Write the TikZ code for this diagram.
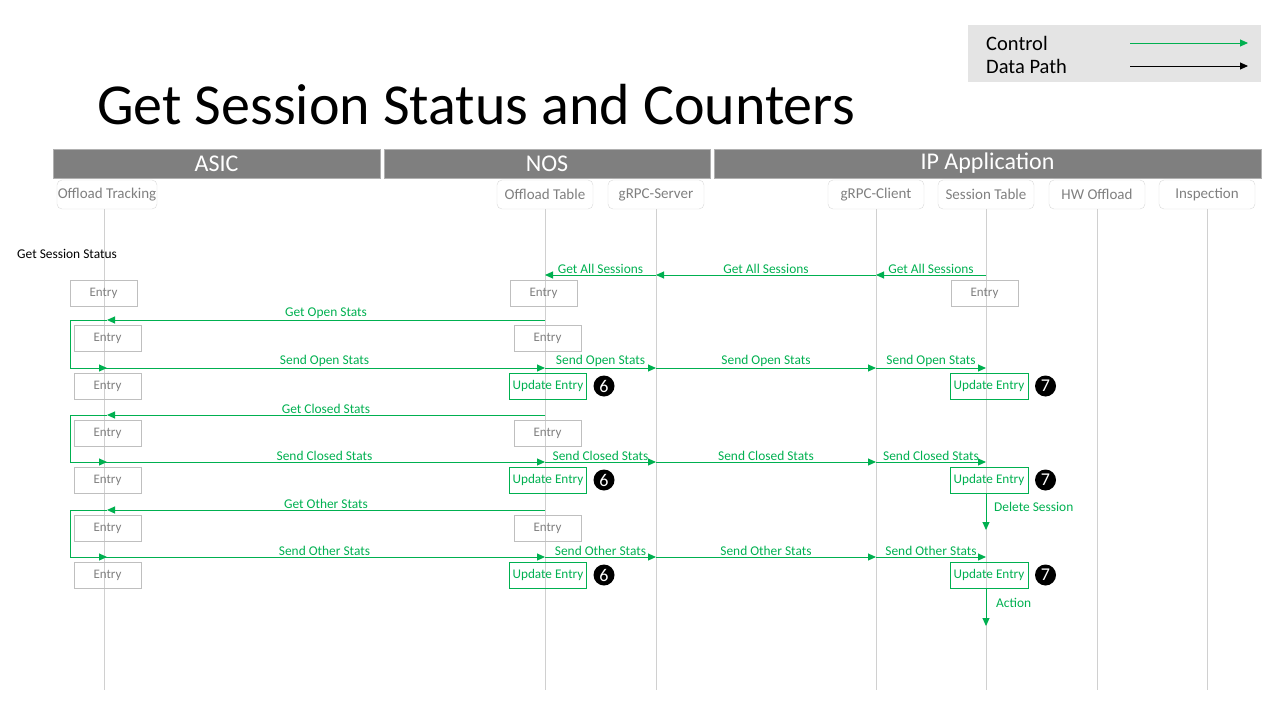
\documentclass[tikz,border=0pt]{standalone}
\usepackage{fontspec}
\setmainfont{Carlito}
\usetikzlibrary{arrows.meta}
\definecolor{ctlgreen}{HTML}{00B050}
\definecolor{bargray}{HTML}{7F7F7F}
\definecolor{barborder}{HTML}{B0B0B0}
\definecolor{headborder}{HTML}{D9D9D9}
\definecolor{headtext}{HTML}{7F7F7F}
\definecolor{entryborder}{HTML}{BFBFBF}
\definecolor{lifegray}{HTML}{D0D0D0}
\definecolor{legendfill}{HTML}{E4E4E4}
\newcommand{\fs}[1]{\fontsize{#1}{#1}\selectfont}
\tikzset{
  bar/.style={draw=barborder, fill=bargray, text=white, inner sep=0, minimum height=29pt, font=\fs{24}},
  head/.style={draw=headborder, rounded corners=5pt, text=headtext, inner sep=0, minimum height=29pt, minimum width=96pt, font=\fs{15}},
  life/.style={draw=lifegray, line width=0.8pt},
  entrybox/.style={draw=entryborder, text=headtext, inner sep=0, minimum width=67pt, minimum height=26pt, font=\fs{13}},
  updbox/.style={draw=ctlgreen, text=ctlgreen, inner sep=0, minimum width=77pt, minimum height=26pt, font=\fs{13.2}},
  badge/.style={circle, fill=black, text=white, inner sep=0, minimum size=21pt, font=\fs{18}},
  ctl/.style={draw=ctlgreen, line width=1pt},
  ctlarrow/.style={ctl, -{Triangle[length=8pt,width=7pt]}},
  lbl/.style={text=ctlgreen, font=\fs{13.4}, inner sep=1pt, above},
}
\begin{document}
\begin{tikzpicture}[x=1pt,y=-1pt]
\useasboundingbox (0,0) rectangle (1280,720);
% legend
\node[fill=legendfill, inner sep=0, minimum width=293pt, minimum height=57pt] (legend) at (1114.5,53.5) {};
\node[anchor=west, font=\fs{20.5}, inner sep=0] (lc) at (986,43) {Control};
\node[anchor=west, font=\fs{20.5}, inner sep=0] (ld) at (986,66) {Data Path};
\coordinate (lca) at (1130,43); \coordinate (lcb) at (1248,43);
\coordinate (lda) at (1130,66); \coordinate (ldb) at (1248,66);
\draw[draw=ctlgreen, line width=0.8pt, -{Triangle[length=8pt,width=7pt]}] (lca) -- (lcb);
\draw[draw=black, line width=0.8pt, -{Triangle[length=8pt,width=7pt]}] (lda) -- (ldb);
% title
\node[anchor=base west, inner sep=0, font=\fs{58}] (title) at (97,124) {Get Session Status and Counters};
% bars
\node[bar, minimum width=327pt] (asic) at (216.5,163.5) {ASIC};
\node[bar, minimum width=326pt] (nos) at (547,163.5) {NOS};
\node[bar, minimum width=547pt] (ipapp) at (987.5,163.5) {IP Application};
% heads
\node[head, minimum width=100pt] (ot) at (107,194.5) {Offload Tracking};
\node[head] (otab) at (545,194.5) {Offload Table};
\node[head] (gs) at (656,194.5) {gRPC-Server};
\node[head] (gc) at (876,194.5) {gRPC-Client};
\node[head] (st) at (986,194.5) {Session Table};
\node[head] (hw) at (1097,194.5) {HW Offload};
\node[head] (insp) at (1207,194.5) {Inspection};
\coordinate (bot) at (0,690);
\coordinate (otx) at (104,0);
\draw[life] (otx |- ot.south) -- (otx |- bot);
\foreach \h in {otab,gs,gc,st,hw,insp} \draw[life] (\h.south) -- (\h |- bot);
% section label
\node[anchor=west, inner sep=0, font=\fs{13.4}] (sec) at (17,254) {Get Session Status};
% entry boxes
\node[entrybox] (l1) at (103.5,293) {Entry};
\node[entrybox] (l2) at (107.5,338) {Entry};
\node[entrybox] (l3) at (107.5,386) {Entry};
\node[entrybox] (l4) at (107.5,433) {Entry};
\node[entrybox] (l5) at (107.5,480) {Entry};
\node[entrybox] (l6) at (107.5,528) {Entry};
\node[entrybox] (l7) at (107.5,575) {Entry};
\node[entrybox] (m1) at (543.5,293) {Entry};
\node[entrybox] (m2) at (547.5,338) {Entry};
\node[updbox] (u1) at (548,386) {Update Entry};
\node[entrybox] (m3) at (547.5,433) {Entry};
\node[updbox] (u2) at (548,480) {Update Entry};
\node[entrybox] (m4) at (547.5,528) {Entry};
\node[updbox] (u3) at (548,575) {Update Entry};
\node[entrybox] (s1) at (984.5,293) {Entry};
\node[updbox, minimum width=78pt] (v1) at (989,386) {Update Entry};
\node[updbox, minimum width=78pt] (v2) at (989,480) {Update Entry};
\node[updbox, minimum width=78pt] (v3) at (989,575) {Update Entry};
\node[badge] (b1) at (604,386) {6};
\node[badge] (b2) at (604,480) {6};
\node[badge] (b3) at (604,575) {6};
\node[badge] (c1) at (1045.5,386) {7};
\node[badge] (c2) at (1045.5,480) {7};
\node[badge] (c3) at (1045.5,575) {7};
% rows
\coordinate (r0) at (0,275);
\coordinate (lx) at (70,0);
\coordinate (tx) at (107,0);
% Get All Sessions
\draw[ctlarrow] (st |- r0) -- node[lbl]{Get All Sessions} (gc |- r0);
\draw[ctlarrow] (gc |- r0) -- node[lbl]{Get All Sessions} (gs |- r0);
\draw[ctlarrow] (gs |- r0) -- node[lbl]{Get All Sessions} (otab |- r0);
% three stats loops
\foreach \ga/\sa/\gl/\sl in {320/368/Get Open Stats/Send Open Stats, 415/462/Get Closed Stats/Send Closed Stats, 510/557/Get Other Stats/Send Other Stats}{
  \coordinate (rg) at (0,\ga);
  \coordinate (rs) at (0,\sa);
  \draw[ctlarrow] (otab |- rg) -- node[lbl]{\gl} (tx |- rg);
  \draw[ctl] (tx |- rg) -- (lx |- rg) -- (lx |- rs);
  \draw[ctlarrow] (lx |- rs) -- (tx |- rs);
  \draw[ctlarrow] (otx |- rs) -- node[lbl]{\sl} (otab |- rs);
  \draw[ctlarrow] (otab |- rs) -- node[lbl]{\sl} (gs |- rs);
  \draw[ctlarrow] (gs |- rs) -- node[lbl]{\sl} (gc |- rs);
  \draw[ctlarrow] (gc |- rs) -- node[lbl]{\sl} (st |- rs);
}
% delete session / action
\coordinate (dse) at (0,530);
\coordinate (ace) at (0,626);
\draw[ctlarrow] (st |- v2.south) -- (st |- dse);
\draw[ctlarrow] (st |- v3.south) -- (st |- ace);
\node[anchor=west, text=ctlgreen, font=\fs{13.4}, inner sep=0] (dl) at (994,507) {Delete Session};
\node[anchor=west, text=ctlgreen, font=\fs{13.4}, inner sep=0] (al) at (996,603) {Action};
\end{tikzpicture}
\end{document}
